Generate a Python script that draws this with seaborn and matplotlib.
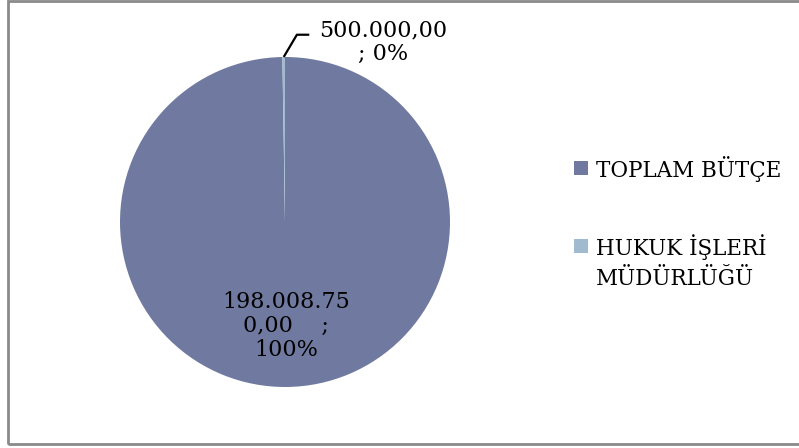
import matplotlib.pyplot as plt
import numpy as np
import seaborn as sns
from matplotlib.patches import Rectangle

sns.set_theme(style="white")
plt.rcParams["font.family"] = ["DejaVu Serif"]

# data
categories = ["TOPLAM BÜTÇE", "HUKUK İŞLERİ\nMÜDÜRLÜĞÜ"]
values = [198008750.00, 500000.00]
value_labels = ["198.008.75\n0,00    ;\n100%", "500.000,00\n; 0%"]
colors = ["#707AA0", "#A0BAD0"]

W, H = 799, 448
fig = plt.figure(figsize=(W / 100, H / 100), dpi=100)
fig.patch.set_facecolor("white")

# pie axes: centre (285, 222) px, radius 165 px
ax = fig.add_axes([120 / W, (H - 387) / H, 330 / W, 330 / H])
wedges, _ = ax.pie(
    values,
    colors=colors,
    startangle=90,
    counterclock=False,
    radius=1,
    wedgeprops=dict(linewidth=0)
)
ax.set_xlim(-1, 1)
ax.set_ylim(-1, 1)
ax.axis("off")

# big slice label, inside
w = wedges[0]
mid = np.deg2rad((w.theta1 + w.theta2) / 2)
ax.text(0.63 * np.cos(mid), 0.63 * np.sin(mid), value_labels[0],
        ha="center", va="center", fontsize=16, linespacing=1.12, color="black")

# small slice label, outside with leader line
w = wedges[1]
mid = np.deg2rad((w.theta1 + w.theta2) / 2)
ex, ey = np.cos(mid), np.sin(mid)
ax.plot([ex, ex + 0.08, ex + 0.155], [ey, ey + 0.135, ey + 0.135],
        color="black", lw=1.6, clip_on=False, solid_capstyle="butt")
ax.text(ex + 0.6, ey + 0.09, value_labels[1],
        ha="center", va="center", fontsize=16, linespacing=1.12, color="black",
        clip_on=False)

# legend drawn by hand
legend_rows = [177, 255]
line_step = 30
for cat, col, base in zip(categories, colors, legend_rows):
    fig.patches.append(Rectangle((574 / W, (H - base + 2) / H), 14 / W, 14 / H,
                                 transform=fig.transFigure, facecolor=col,
                                 edgecolor="none"))
    for i, line in enumerate(cat.split("\n")):
        fig.text(596 / W, (H - base - i * line_step) / H, line,
                 ha="left", va="baseline", fontsize=15.5, color="black")

# outer frame
fig.patches.append(Rectangle((8 / W, (H - 444) / H), 1.0, 443 / H,
                             transform=fig.transFigure, fill=False,
                             edgecolor="#8a8a8a", lw=2))

fig.savefig("out.png", dpi=100)
